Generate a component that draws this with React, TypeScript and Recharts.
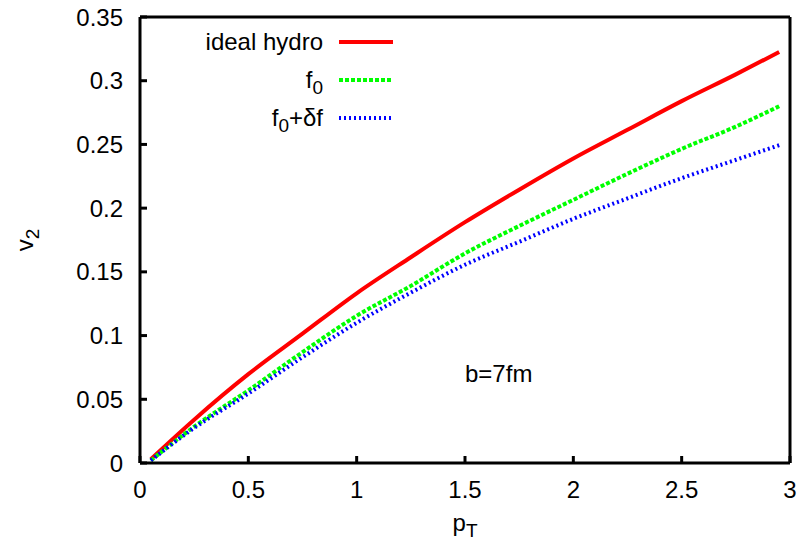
import { Customized, Label, Line, LineChart, ReferenceDot, XAxis, YAxis } from "recharts";

const pT = [0.05, 0.25, 0.5, 0.75, 1.0, 1.25, 1.5, 1.75, 2.0, 2.25, 2.5, 2.75, 2.95];
const idealHydro = [0.003, 0.034, 0.0697, 0.1015, 0.1332, 0.1615, 0.189, 0.2145, 0.239, 0.2615, 0.284, 0.305, 0.3225];
const f0 = [0.002, 0.0285, 0.057, 0.087, 0.1155, 0.139, 0.1645, 0.186, 0.2065, 0.227, 0.2465, 0.264, 0.28];
const f0df = [0.002, 0.0275, 0.0545, 0.083, 0.11, 0.1337, 0.1556, 0.1736, 0.1916, 0.2077, 0.2235, 0.2379, 0.2494];

const xTicks = [0, 0.5, 1, 1.5, 2, 2.5, 3];
const yTicks = [0, 0.05, 0.1, 0.15, 0.2, 0.25, 0.3, 0.35];

const font = '"Liberation Sans", Arial, Helvetica, sans-serif';
const fontSize = 24;
const subSize = 19;

const series = [
  { key: "ideal", name: "ideal hydro", sub: "", tail: "", color: "#ff0000", dash: undefined, width: 4 },
  { key: "f0", name: "f", sub: "0", tail: "", color: "#00ff00", dash: "4 2", width: 4 },
  { key: "f0df", name: "f", sub: "0", tail: "+δf", color: "#0000ff", dash: "2 3", width: 4 },
];

const data = pT.map((x, i) => ({ pT: x, ideal: idealHydro[i], f0: f0[i], f0df: f0df[i] }));

const axisLine = { stroke: "#000", strokeWidth: 3 };
const tickLine = { stroke: "#000", strokeWidth: 3 };
const tickStyle = { fill: "#000", fontSize, fontFamily: font };

function KeyBox() {
  return (
    <g>
      {series.map((s, i) => {
        const y = 42 + i * 38;
        return (
          <g key={s.key}>
            <text x={323} y={y + 8} textAnchor="end" fontSize={fontSize} fontFamily={font} fill="#000">
              {s.name}
              {s.sub && (
                <tspan dy={6} fontSize={subSize}>
                  {s.sub}
                </tspan>
              )}
              {s.tail && <tspan dy={-6}>{s.tail}</tspan>}
            </text>
            <line x1={339} x2={393} y1={y} y2={y} stroke={s.color} strokeWidth={s.width} strokeDasharray={s.dash} />
          </g>
        );
      })}
    </g>
  );
}

function YTitle({ viewBox }: any) {
  const x = viewBox.x + 33;
  const y = viewBox.y + viewBox.height / 2;
  return (
    <text x={x} y={y} transform={`rotate(-90, ${x}, ${y})`} textAnchor="middle" fontSize={fontSize} fontFamily={font} fill="#000">
      v<tspan dy={6} fontSize={subSize}>2</tspan>
    </text>
  );
}

function XTitle({ viewBox }: any) {
  const x = viewBox.x + viewBox.width / 2;
  const y = viewBox.y + 68;
  return (
    <text x={x} y={y} textAnchor="middle" fontSize={fontSize} fontFamily={font} fill="#000">
      p<tspan dy={6} fontSize={subSize}>T</tspan>
    </text>
  );
}

export default function App() {
  return (
    <div style={{ position: "absolute", left: 0, top: 0, background: "#fff" }}>
      <LineChart width={801} height={550} data={data} margin={{ top: 16, right: 10, left: 0, bottom: 0 }}>
        {/* negative tickSize turns the ticks inward, like gnuplot */}
        <XAxis
          dataKey="pT"
          type="number"
          domain={[0, 3]}
          ticks={xTicks}
          height={87}
          tickSize={-7}
          tickMargin={25}
          axisLine={axisLine}
          tickLine={tickLine}
          tick={tickStyle}
        >
          <Label content={XTitle} />
        </XAxis>
        <XAxis
          xAxisId="top"
          orientation="top"
          dataKey="pT"
          type="number"
          domain={[0, 3]}
          ticks={xTicks}
          height={1}
          tickSize={-7}
          tick={false}
          axisLine={axisLine}
          tickLine={tickLine}
        />
        <YAxis
          type="number"
          domain={[0, 0.35]}
          ticks={yTicks}
          width={140}
          tickSize={-7}
          tickMargin={24}
          axisLine={axisLine}
          tickLine={tickLine}
          tick={tickStyle}
        >
          <Label content={YTitle} />
        </YAxis>
        <YAxis
          yAxisId="right"
          orientation="right"
          type="number"
          domain={[0, 0.35]}
          ticks={yTicks}
          width={1}
          tickSize={-7}
          tick={false}
          axisLine={axisLine}
          tickLine={tickLine}
        />
        {series.map((s) => (
          <Line
            key={s.key}
            dataKey={s.key}
            type="monotone"
            stroke={s.color}
            strokeWidth={s.width}
            strokeDasharray={s.dash}
            dot={false}
            activeDot={false}
            isAnimationActive={false}
          />
        ))}
        <ReferenceDot
          x={1.5}
          y={0.07}
          r={0}
          shape={(p: any) => (
            <text x={p.cx} y={p.cy + 8} textAnchor="start" fontSize={fontSize} fontFamily={font} fill="#000">
              b=7fm
            </text>
          )}
        />
        <Customized component={KeyBox} />
      </LineChart>
    </div>
  );
}
